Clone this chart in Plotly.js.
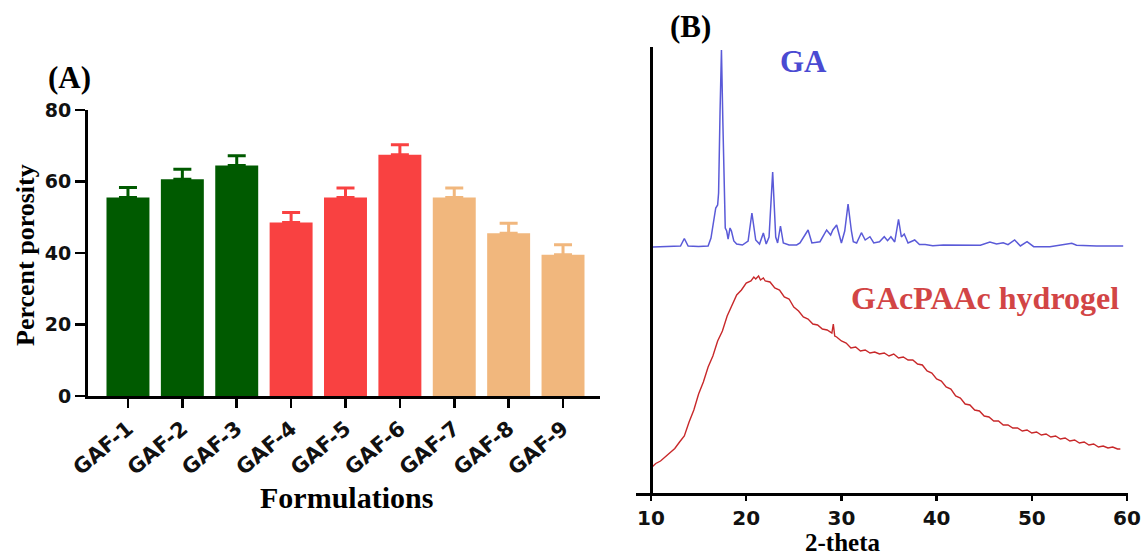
<!DOCTYPE html>
<html>
<head>
<meta charset="utf-8">
<script src="https://cdn.plot.ly/plotly-3.0.1.min.js"></script>
<style>html,body{margin:0;padding:0;background:#fff;}#chart{width:1143px;height:556px;}</style>
</head>
<body>
<div id="chart"></div>
<script>
// ---- Panel A data ----
const formulations = ["GAF-1","GAF-2","GAF-3","GAF-4","GAF-5","GAF-6","GAF-7","GAF-8","GAF-9"];
const porosity = [55.5, 60.6, 64.5, 48.5, 55.5, 67.5, 55.5, 45.5, 39.5];
const porosityErr = [2.8, 2.8, 2.7, 2.8, 2.7, 2.8, 2.7, 2.8, 2.8];
const groupColors = ["#005a00", "#f94141", "#f1b77d"];
const groupSize = 3;

// ---- Panel B data (2-theta, intensity a.u.) ----
const gaTheta = [10.2,12.0,13.1,13.5,13.9,15.0,16.0,16.3,16.6,16.8,17.0,17.1,17.25,17.4,17.55,17.7,17.8,17.95,18.1,18.3,18.45,18.7,19.0,19.6,20.2,20.6,21.0,21.4,21.8,22.1,22.4,22.78,23.1,23.3,23.6,23.9,24.5,25.3,25.65,26.5,26.9,27.75,28.45,28.87,29.1,29.5,30.0,30.35,30.7,31.05,31.25,31.6,32.1,32.5,33.0,33.4,34.0,34.5,34.85,35.2,35.6,36.0,36.3,36.6,37.0,37.7,38.2,38.8,39.6,40.7,42.1,43.5,44.6,45.6,46.3,47.0,47.5,48.2,48.8,49.5,50.2,51.9,53.0,54.2,54.7,56.8,59.6];
const gaInt = [246,247,247,254.5,247,246.5,247,255,272,285,288,300,380,443,370,280,265,262,254,265,262,252,249,248,252,280,253,249,260,249,256,321,256,250,267,250,248,248,250,263,250,251.3,263,258,263,268,250,262,289,262,251.3,250,260.3,253,256.3,250,251.3,256.3,252.3,256.3,251,273.7,256,259,250,253,248.5,248.5,247.3,248,248,248,247.7,251,249,250.3,248.3,253,247,251.3,246.3,246.3,247.7,249.7,247.7,247,247];

const gelTheta = [10.0,10.5,11.0,11.5,12.0,12.5,13.0,13.5,14.0,14.5,15.0,15.5,16.0,16.5,17.0,17.5,18.0,18.5,19.0,19.5,20.0,20.5,20.8,21.0,21.3,21.5,21.8,22.0,22.5,23.0,23.5,24.0,24.5,25.0,25.5,26.0,26.5,27.0,27.5,28.0,28.5,29.0,29.15,29.3,29.5,30.0,30.5,31.0,31.5,32.0,32.5,33.0,33.5,34.0,34.5,35.0,35.5,36.0,36.5,37.0,37.5,38.0,38.5,39.0,39.5,40.0,40.5,41.0,41.5,42.0,42.5,43.0,43.5,44.0,44.5,45.0,45.5,46.0,46.5,47.0,47.5,48.0,48.5,49.0,49.5,50.0,50.5,51.0,51.5,52.0,52.5,53.0,53.5,54.0,54.5,55.0,55.5,56.0,56.5,57.0,57.5,58.0,58.5,59.0,59.3];
const gelInt = [25,29.5,32,36.5,40,44.5,51,57,71,83,99,111,126,137,152,162,177,187,198,203,210,212,216,214,217,213,215,212,211,205,203,196,194,186,182,176,174,169,168,164,163,160,169,157,156,152,150,145,146,142,143,140,141,139,140,137,139,135,136,133,133,129,128,122,120,114,112,106,104,97,95,89,88,83,82,77,76,72,72,68,68,65,65,62,63,60,61,58,59,56,57,54,55,52,53,50,51,48,49,46,47,45,46,44,44];

// ---- traces ----
const traces = [];
for (let g = 0; g < groupColors.length; g++) {
  const s = g * groupSize, e = s + groupSize;
  traces.push({
    type: 'bar',
    x: formulations.slice(s, e),
    y: porosity.slice(s, e),
    marker: {color: groupColors[g], line: {width: 0}},
    error_y: {type: 'data', symmetric: false, array: porosityErr.slice(s, e),
              arrayminus: porosityErr.slice(s, e).map(() => 0),
              color: groupColors[g], thickness: 3, width: 9},
    xaxis: 'x', yaxis: 'y', showlegend: false, hoverinfo: 'x+y'
  });
}
traces.push({type: 'scatter', mode: 'lines', x: gaTheta, y: gaInt,
  line: {color: '#5a5ad8', width: 1.5}, xaxis: 'x2', yaxis: 'y2', showlegend: false});
traces.push({type: 'scatter', mode: 'lines', x: gelTheta, y: gelInt,
  line: {color: '#c8282a', width: 1.4}, xaxis: 'x2', yaxis: 'y2', showlegend: false});

const W = 1143, H = 556;
const px = v => v / W, py = v => 1 - v / H;
const tickFont = {family: 'DejaVu Sans', size: 19, color: '#111', weight: 'bold'};
const serif = (size, color) => ({family: 'Liberation Serif', size: size, color: color || '#000', weight: 'bold'});

const layout = {
  width: W, height: H,
  margin: {l: 0, r: 0, t: 0, b: 0},
  paper_bgcolor: '#fff', plot_bgcolor: 'rgba(0,0,0,0)',
  barmode: 'overlay', bargap: 0.21,
  xaxis: {domain: [px(88), px(600)], anchor: 'y', type: 'category',
    categoryorder: 'array', categoryarray: formulations,
    range: [-0.735, 8.68], showline: true, linewidth: 3, linecolor: '#000',
    ticks: 'outside', ticklen: 9, tickwidth: 2.5, tickcolor: '#000',
    tickangle: -40, tickfont: {family: 'DejaVu Sans', size: 21, color: '#111', weight: 'bold'},
    showgrid: false, zeroline: false, fixedrange: true},
  yaxis: {domain: [py(396), py(110)], anchor: 'x', range: [0, 80], dtick: 20,
    showline: true, linewidth: 3, linecolor: '#000',
    ticks: 'outside', ticklen: 10, tickwidth: 2.5, tickcolor: '#000',
    tickfont: tickFont, showgrid: false, zeroline: false, fixedrange: true},
  xaxis2: {domain: [px(636), px(1128)], anchor: 'y2', range: [8.4244, 60.105],
    tickvals: [10, 20, 30, 40, 50, 60],
    showline: true, linewidth: 3, linecolor: '#000',
    ticks: 'outside', ticklen: 5, tickwidth: 2.5, tickcolor: '#000',
    tickfont: {family: 'DejaVu Sans', size: 20, color: '#111', weight: 'bold'},
    showgrid: false, zeroline: false, fixedrange: true},
  yaxis2: {domain: [py(493), py(47)], anchor: 'free', position: px(651), range: [0, 446],
    showline: true, linewidth: 3, linecolor: '#000', ticks: '', showticklabels: false,
    showgrid: false, zeroline: false, fixedrange: true},
  annotations: [
    {text: '(A)', x: px(69), y: py(77), xref: 'paper', yref: 'paper', showarrow: false, font: serif(31), xanchor: 'center', yanchor: 'middle'},
    {text: '(B)', x: px(690), y: py(26), xref: 'paper', yref: 'paper', showarrow: false, font: serif(31), xanchor: 'center', yanchor: 'middle'},
    {text: 'Percent porosity', x: px(25), y: py(255), xref: 'paper', yref: 'paper', showarrow: false, textangle: -90, font: serif(26), xanchor: 'center', yanchor: 'middle'},
    {text: 'Formulations', x: px(346), y: py(497), xref: 'paper', yref: 'paper', showarrow: false, font: serif(30), xanchor: 'center', yanchor: 'middle'},
    {text: '2-theta', x: px(843), y: py(542), xref: 'paper', yref: 'paper', showarrow: false, font: serif(25), xanchor: 'center', yanchor: 'middle'},
    {text: 'GA', x: px(803), y: py(62), xref: 'paper', yref: 'paper', showarrow: false, font: serif(31, '#4a4ad2'), xanchor: 'center', yanchor: 'middle'},
    {text: 'GAcPAAc hydrogel', x: px(985), y: py(298), xref: 'paper', yref: 'paper', showarrow: false, font: serif(32, '#d24545'), xanchor: 'center', yanchor: 'middle'}
  ]
};

Plotly.newPlot('chart', traces, layout, {displayModeBar: false, staticPlot: true});
</script>
</body>
</html>
